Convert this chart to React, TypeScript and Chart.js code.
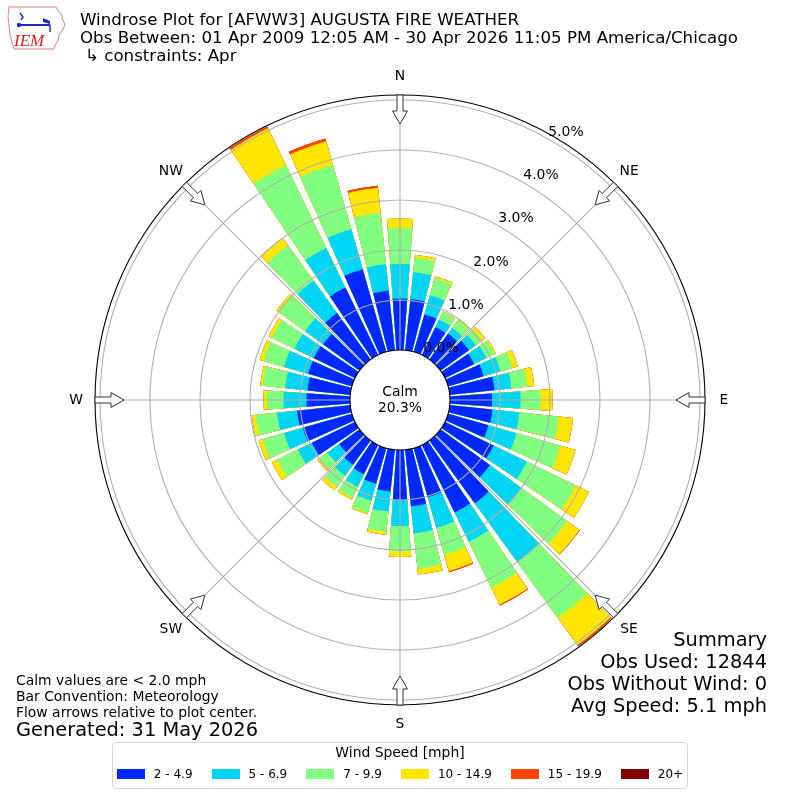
import React, { useEffect, useRef } from "react";
import { Chart, registerables } from "chart.js";

Chart.register(...registerables);

// ---------------- data ----------------
const directionsDeg = [
  0, 10, 20, 30, 40, 50, 60, 70, 80, 90, 100, 110, 120, 130, 140, 150, 160, 170,
  180, 190, 200, 210, 220, 230, 240, 250, 260, 270, 280, 290, 300, 310, 320, 330, 340, 350,
];
const speedBins = ["2 - 4.9", "5 - 6.9", "7 - 9.9", "10 - 14.9", "15 - 19.9", "20+"];
const binColors = ["#0028ff", "#00d5f5", "#80ff80", "#ffe500", "#ff4500", "#800000"];

// percent of observations per direction, per speed bin
const pct2to5 = [
  1.03, 1.03, 0.78, 0.62, 0.64, 0.7, 0.65, 0.74, 0.9, 0.84, 0.86, 0.84, 1.08, 1.22, 1.55, 1.5, 1.02, 1.14,
  1.0, 0.84, 0.74, 0.65, 0.6, 0.5, 0.96, 1.02, 1.07, 0.87, 0.86, 0.91, 0.92, 0.9, 1.15, 1.5, 1.72, 1.2,
];
const pct5to7 = [
  0.69, 0.54, 0.4, 0.17, 0.14, 0.17, 0.27, 0.35, 0.34, 0.57, 0.54, 0.58, 0.74, 0.78, 1.45, 0.65, 0.64, 0.54,
  0.52, 0.4, 0.35, 0.28, 0.27, 0.29, 0.31, 0.39, 0.4, 0.46, 0.45, 0.5, 0.43, 0.45, 0.8, 0.88, 0.83, 0.53,
];
const pct7to10 = [
  0.72, 0.29, 0.35, 0.16, 0.19, 0.15, 0.18, 0.25, 0.32, 0.4, 0.79, 0.91, 1.08, 1.13, 1.38, 1.02, 0.56, 0.71,
  0.51, 0.41, 0.25, 0.24, 0.28, 0.21, 0.46, 0.44, 0.43, 0.33, 0.45, 0.43, 0.5, 0.65, 0.87, 1.84, 1.34, 1.03,
];
const pct10to15 = [
  0.19, 0.06, 0.04, 0.02, 0.02, 0.08, 0.03, 0.11, 0.14, 0.24, 0.29, 0.32, 0.3, 0.3, 0.67, 0.38, 0.34, 0.12,
  0.11, 0.06, 0.03, 0.04, 0.08, 0.04, 0.12, 0.09, 0.08, 0.07, 0.05, 0.08, 0.07, 0.05, 0.18, 0.82, 0.49, 0.51,
];
const pct15to20 = [
  0, 0, 0, 0, 0, 0, 0, 0, 0, 0, 0, 0, 0, 0.01, 0.03, 0.02, 0.02, 0,
  0, 0, 0, 0, 0, 0, 0, 0, 0, 0, 0, 0, 0, 0, 0, 0.04, 0.06, 0.04,
];
const pct20plus = [
  0, 0, 0, 0, 0, 0, 0, 0, 0, 0, 0, 0, 0, 0, 0, 0, 0, 0,
  0, 0, 0, 0, 0, 0, 0, 0, 0, 0, 0, 0, 0, 0, 0, 0, 0, 0,
];
const binSeries = [pct2to5, pct5to7, pct7to10, pct10to15, pct15to20, pct20plus];

const compassLabels = ["N", "NE", "E", "SE", "S", "SW", "W", "NW"];
const compassDeg = [0, 45, 90, 135, 180, 225, 270, 315];
const radialTicks = [0, 1, 2, 3, 4, 5];
const calmPct = 20.3;
const rMin = -1; // calm circle occupies the region below 0 %
const rMax = 5.1;
const barDeg = 8.2;
const gapDeg = 10 - barDeg;

const titleLines = [
  "Windrose Plot for [AFWW3] AUGUSTA FIRE WEATHER",
  "Obs Between: 01 Apr 2009 12:05 AM - 30 Apr 2026 11:05 PM America/Chicago",
  "\u21b3 constraints: Apr",
];
const noteLines = ["Calm values are < 2.0 mph", "Bar Convention: Meteorology", "Flow arrows relative to plot center."];
const generatedText = "Generated: 31 May 2026";
const summaryLines = ["Summary", "Obs Used: 12844", "Obs Without Wind: 0", "Avg Speed: 5.1 mph"];

const FONT = '"DejaVu Sans", "Liberation Sans", sans-serif';

// ---------------- chart pieces ----------------
function buildDatasets() {
  const cumulative: number[][] = [];
  binSeries.forEach((series, k) => {
    cumulative.push(series.map((v, i) => (k === 0 ? v : cumulative[k - 1][i] + v)));
  });
  return cumulative.map((cum, k) => {
    const data: number[] = [];
    const colors: string[] = [];
    cum.forEach((v) => {
      data.push(v);
      colors.push(binColors[k]);
      data.push(rMin); // angular gap between bars
      colors.push("rgba(0,0,0,0)");
    });
    return {
      label: speedBins[k],
      data,
      backgroundColor: colors,
      borderWidth: 0,
      angle: (ctx: any) => (ctx.dataIndex % 2 === 0 ? barDeg : gapDeg),
    };
  });
}

const overlayPlugin = {
  id: "roseOverlay",
  afterDatasetsDraw(chart: any) {
    const s = chart.scales.r;
    const ctx: CanvasRenderingContext2D = chart.ctx;
    const cx = s.xCenter;
    const cy = s.yCenter;
    const R = s.getDistanceFromCenterForValue(rMax);
    ctx.save();

    // grid circles
    ctx.strokeStyle = "#b0b0b0";
    ctx.lineWidth = 1.1;
    radialTicks.forEach((v) => {
      if (v === 0) return;
      const d = s.getDistanceFromCenterForValue(v);
      ctx.beginPath();
      ctx.arc(cx, cy, d, 0, Math.PI * 2);
      ctx.stroke();
    });
    // angle lines
    compassDeg.forEach((a) => {
      const t = (a * Math.PI) / 180;
      ctx.beginPath();
      ctx.moveTo(cx, cy);
      ctx.lineTo(cx + R * Math.sin(t), cy - R * Math.cos(t));
      ctx.stroke();
    });

    // calm circle
    const d0 = s.getDistanceFromCenterForValue(0);
    ctx.beginPath();
    ctx.arc(cx, cy, d0, 0, Math.PI * 2);
    ctx.fillStyle = "#ffffff";
    ctx.fill();
    ctx.strokeStyle = "#000";
    ctx.lineWidth = 1.1;
    ctx.stroke();

    ctx.fillStyle = "#000";
    ctx.font = `13.9px ${FONT}`;
    ctx.textAlign = "center";
    ctx.textBaseline = "middle";
    ctx.fillText("Calm", cx, cy - 8);
    ctx.fillText(`${calmPct.toFixed(1)}%`, cx, cy + 8);

    // radial tick labels along 30 deg
    radialTicks.forEach((v) => {
      const d = s.getDistanceFromCenterForValue(v);
      ctx.fillText(`${v.toFixed(1)}%`, cx + d * 0.5 + 16, cy - d * 0.866 - 8);
    });

    // outer spine
    ctx.beginPath();
    ctx.arc(cx, cy, R, 0, Math.PI * 2);
    ctx.strokeStyle = "#000";
    ctx.lineWidth = 1.1;
    ctx.stroke();

    // flow arrows (pointing to center)
    compassDeg.forEach((a) => {
      const t = (a * Math.PI) / 180;
      const pts: [number, number][] = [
        [R, -3],
        [R - 16, -3],
        [R - 16, -7.5],
        [R - 29, 0],
        [R - 16, 7.5],
        [R - 16, 3],
        [R, 3],
      ];
      ctx.beginPath();
      pts.forEach(([u, w], i) => {
        const x = cx + u * Math.sin(t) + w * Math.cos(t);
        const y = cy - u * Math.cos(t) + w * Math.sin(t);
        if (i === 0) ctx.moveTo(x, y);
        else ctx.lineTo(x, y);
      });
      ctx.closePath();
      ctx.fillStyle = "#ffffff";
      ctx.fill();
      ctx.strokeStyle = "#333";
      ctx.lineWidth = 1;
      ctx.stroke();
    });

    // compass labels
    ctx.fillStyle = "#000";
    ctx.font = `13.9px ${FONT}`;
    compassLabels.forEach((lab, i) => {
      const t = (compassDeg[i] * Math.PI) / 180;
      const d = R + 19;
      ctx.fillText(lab, cx + d * Math.sin(t), cy - d * Math.cos(t));
    });

    ctx.restore();
  },
};

// ---------------- component ----------------
function Logo() {
  return (
    <svg width="60" height="46" style={{ position: "absolute", left: 6, top: 5 }} viewBox="0 0 60 46">
      <path
        d="M3 2 L50 2 L52 6 L55 9 L57 15 L59 20 L56 26 L53 30 L52 36 L49 40 L48 44 L8 44 L6 38 L4 30 L3 20 L2 12 Z"
        fill="none"
        stroke="#e08080"
        strokeWidth="1"
      />
      <line x1="14" y1="20" x2="44" y2="20" stroke="#1a2ad0" strokeWidth="2" />
      <circle cx="13" cy="20" r="2.2" fill="#1a2ad0" />
      <path d="M14 8 L17 12 L15 15" stroke="#1a2ad0" strokeWidth="1.5" fill="none" />
      <path d="M37 13 L44 16 L44 19 L37 17 Z" fill="#1a2ad0" />
      <line x1="44" y1="20" x2="44" y2="27" stroke="#1a2ad0" strokeWidth="1.5" />
      <text x="8" y="41" fontFamily="'Liberation Serif', serif" fontStyle="italic" fontSize="17" fill="#d02020">
        IEM
      </text>
    </svg>
  );
}

export default function App() {
  const canvasRef = useRef<HTMLCanvasElement>(null);

  useEffect(() => {
    if (!canvasRef.current) return;
    const labels: string[] = [];
    directionsDeg.forEach((d) => {
      labels.push(`${d}`);
      labels.push("");
    });
    const chart = new Chart(canvasRef.current, {
      type: "polarArea",
      data: { labels, datasets: buildDatasets() as any },
      options: {
        responsive: false,
        animation: false,
        events: [],
        layout: { padding: { left: 95, right: 95, top: 95, bottom: 95 } },
        plugins: { legend: { display: false }, tooltip: { enabled: false }, title: { display: false } },
        scales: {
          r: {
            min: rMin,
            max: rMax,
            beginAtZero: false,
            startAngle: -barDeg / 2,
            grid: { display: false },
            angleLines: { display: false },
            pointLabels: { display: false },
            ticks: { display: false },
          },
        },
      } as any,
      plugins: [overlayPlugin],
    });
    return () => chart.destroy();
  }, []);

  const abs = (extra: React.CSSProperties): React.CSSProperties => ({
    position: "absolute",
    whiteSpace: "pre",
    lineHeight: 1.2,
    color: "#000",
    fontFamily: FONT,
    ...extra,
  });

  return (
    <div style={{ position: "absolute", left: 0, top: 0, width: 800, height: 800, background: "#fff", overflow: "hidden" }}>
      <canvas ref={canvasRef} width={800} height={800} style={{ position: "absolute", left: 0, top: 0 }} />
      <Logo />
      {titleLines.map((t, i) => (
        <div key={t} style={abs({ left: i === 2 ? 85 : 80, top: 10.2 + i * 18, fontSize: 16.67 })}>
          {t}
        </div>
      ))}
      {noteLines.map((t, i) => (
        <div key={t} style={abs({ left: 16, top: 672 + i * 16, fontSize: 13.9 })}>
          {t}
        </div>
      ))}
      <div style={abs({ left: 16, top: 718, fontSize: 19.4 })}>{generatedText}</div>
      {summaryLines.map((t, i) => (
        <div key={t} style={abs({ right: 33, top: 628 + i * 22, fontSize: 19.4, textAlign: "right" })}>
          {t}
        </div>
      ))}
      {/* legend */}
      <div
        style={{
          position: "absolute",
          left: 112,
          top: 742,
          width: 576,
          height: 47,
          boxSizing: "border-box",
          border: "1px solid #d6d6d6",
          borderRadius: 4,
          background: "#fff",
        }}
      />
      <div style={abs({ left: 112, width: 576, top: 744, fontSize: 13.9, textAlign: "center" })}>Wind Speed [mph]</div>
      <div
        style={{
          position: "absolute",
          left: 112,
          width: 576,
          top: 767,
          height: 14,
          display: "flex",
          justifyContent: "center",
          alignItems: "center",
          gap: 19,
          fontFamily: FONT,
          fontSize: 12,
        }}
      >
        {speedBins.map((b, i) => (
          <div key={b} style={{ display: "flex", alignItems: "center", gap: 9, whiteSpace: "pre" }}>
            <span style={{ display: "inline-block", width: 28, height: 10, background: binColors[i] }} />
            <span>{b}</span>
          </div>
        ))}
      </div>
    </div>
  );
}
